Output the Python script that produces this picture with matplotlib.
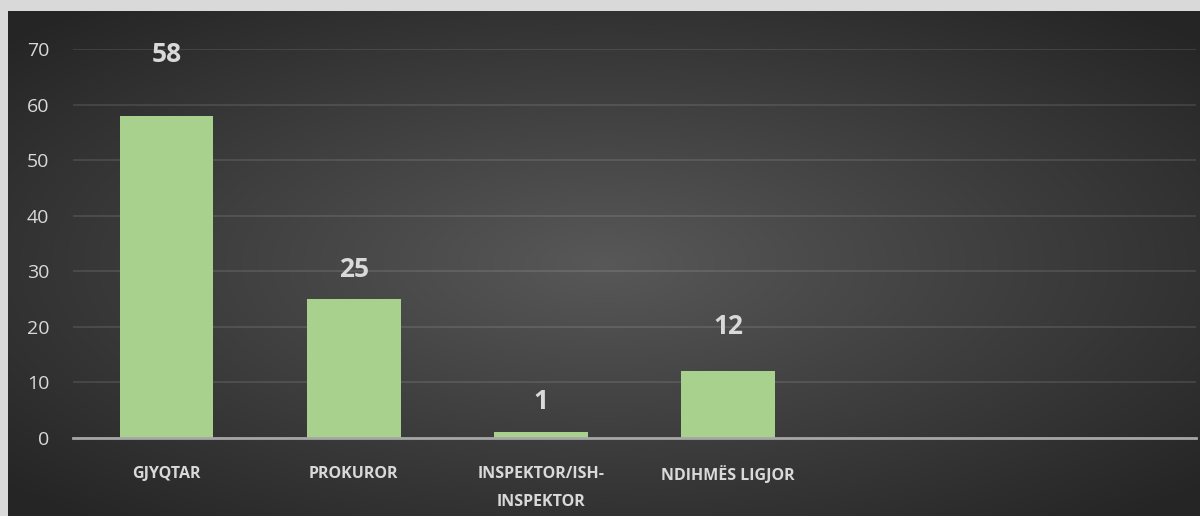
import matplotlib.pyplot as plt
import numpy as np

# Të dhënat
kategorite = ['GJYQTAR', 'PROKUROR', 'INSPEKTOR/ISH-\nINSPEKTOR', 'NDIHMËS LIGJOR', '', '']
vlerat = [58, 25, 1, 12, None, None]
y_ticks = [0, 10, 20, 30, 40, 50, 60, 70]
# zhvendosja e etiketave mbi shtylla (pika)
label_offset = [44, 21, 22, 32]

plt.rcParams['font.family'] = ['Open Sans', 'DejaVu Sans']

fig = plt.figure(figsize=(12, 5.16), dpi=100)
fig.patch.set_facecolor('#d9d9d9')

# Sfondi me gradient radial
bg = fig.add_axes([8 / 1200, 0, 1 - 8 / 1200, 1 - 11 / 516])
bg.set_axis_off()
gx, gy = np.meshgrid(np.linspace(-1, 1, 600), np.linspace(-1, 1, 260))
r = np.clip(np.sqrt(gx ** 2 + gy ** 2) / 1.35, 0, 1)
c0 = np.array([0x58, 0x58, 0x58]) / 255
c1 = np.array([0x25, 0x25, 0x25]) / 255
img = c0[None, None, :] * (1 - r[..., None]) + c1[None, None, :] * r[..., None]
bg.imshow(img, aspect='auto', extent=[0, 1, 0, 1], interpolation='bilinear')
bg.set_xlim(0, 1)
bg.set_ylim(0, 1)

ax = fig.add_axes([73 / 1200, 78 / 516, (1196 - 73) / 1200, (438 - 49) / 516])
ax.patch.set_alpha(0)

x = np.arange(len(kategorite))
shown = [i for i, v in enumerate(vlerat) if v is not None]
h = [vlerat[i] for i in shown]
ax.bar(shown, h, width=0.5, color='#a9d18e', zorder=3)

for i, v, off in zip(shown, h, label_offset):
    ax.annotate(str(v), (i, v), xytext=(0, off), textcoords='offset points',
                ha='center', va='center', fontsize=19, fontweight='bold',
                color='#d9d9d9')

ax.set_xlim(-0.5, len(kategorite) - 0.5)
ax.set_ylim(0, 70)
ax.set_yticks(y_ticks)
ax.set_xticks(x)
ax.set_xticklabels(kategorite, fontsize=11.5, fontweight='bold', color='#d9d9d9',
                   linespacing=2.0)
ax.tick_params(axis='x', length=0, pad=20)
ax.tick_params(axis='y', length=0, labelsize=14, labelcolor='#d9d9d9', pad=17)

ax.grid(axis='y', color='#ffffff', alpha=0.12, linewidth=1.2, zorder=0)
for s in ['top', 'right', 'left']:
    ax.spines[s].set_visible(False)
ax.spines['bottom'].set_color('#a6a6a6')
ax.spines['bottom'].set_linewidth(2)
ax.spines['bottom'].set_zorder(4)

plt.savefig('out.png', dpi=100, facecolor=fig.get_facecolor())
